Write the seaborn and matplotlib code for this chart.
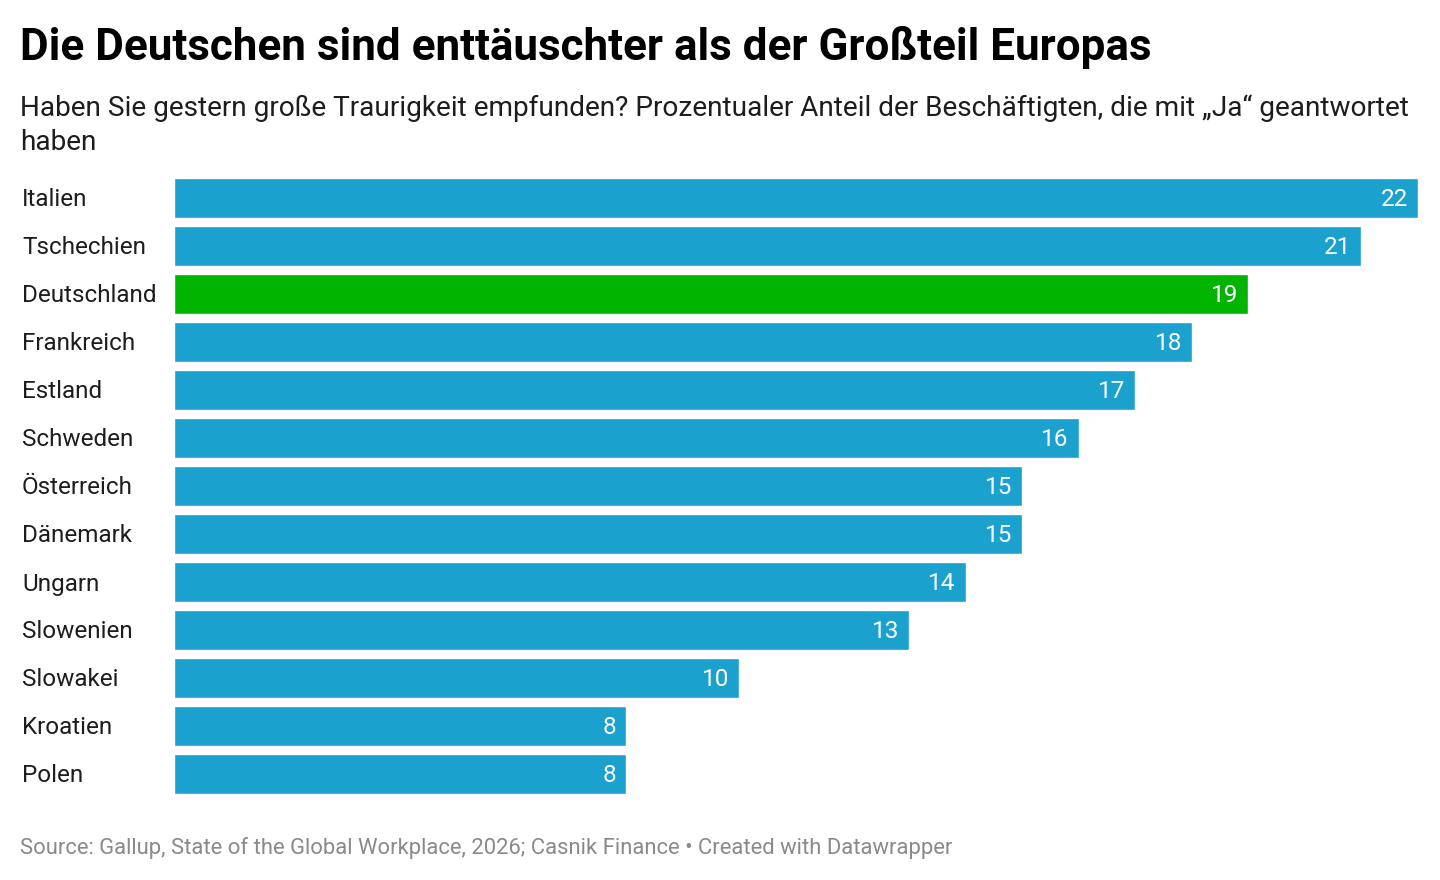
import matplotlib
matplotlib.use("Agg")
import matplotlib.pyplot as plt
import matplotlib.transforms as mtransforms
import seaborn as sns
import pandas as pd

countries = ["Italien", "Tschechien", "Deutschland", "Frankreich", "Estland", "Schweden",
             "Österreich", "Dänemark", "Ungarn", "Slowenien", "Slowakei", "Kroatien", "Polen"]
values = [22, 21, 19, 18, 17, 16, 15, 15, 14, 13, 10, 8, 8]
highlight = "Deutschland"

title = "Die Deutschen sind enttäuschter als der Großteil Europas"
subtitle_lines = ["Haben Sie gestern große Traurigkeit empfunden? Prozentualer Anteil der Beschäftigten, die mit „Ja“ geantwortet",
                  "haben"]
source = "Source: Gallup, State of the Global Workplace, 2026; Casnik Finance • Created with Datawrapper"

sns.set_theme(style="white")
plt.rcParams["font.family"] = ["Roboto", "DejaVu Sans"]

BLUE = "#1aa1cd"
GREEN = "#00b400"

df = pd.DataFrame({"country": countries, "value": values})
palette = {c: (GREEN if c == highlight else BLUE) for c in countries}

W, H = 1440, 880
fig = plt.figure(figsize=(W / 100, H / 100), dpi=100)
ax = fig.add_axes([174 / W, 1 - 794 / H, 1244 / W, (794 - 178) / H])

bw = 40 / 48
sns.barplot(data=df, x="value", y="country", hue="country", palette=palette,
            width=bw, ax=ax, legend=False, saturation=1, order=countries)

ax.set_xlim(0, max(values))
ax.set_ylim(len(countries) - 1 + bw / 2, -bw / 2)
ax.set_xlabel("")
ax.set_ylabel("")
ax.set_xticks([])
ax.set_yticks([])
for s in ax.spines.values():
    s.set_visible(False)

trans = mtransforms.blended_transform_factory(fig.transFigure, ax.transData)
lab_off = mtransforms.offset_copy(trans, fig=fig, x=0, y=-2 * 0.72, units="points")
val_off = mtransforms.offset_copy(ax.transData, fig=fig, x=-10 * 0.72, y=-2 * 0.72, units="points")
for i, (c, v) in enumerate(zip(countries, values)):
    ax.text(22 / W, i, c, transform=lab_off, ha="left", va="center",
            fontsize=17.5, color="#1d1d1d")
    ax.text(v, i, str(v), transform=val_off, ha="right", va="center",
            fontsize=17.5, color="white")

fig.text(20 / W, 1 - 60 / H, title, ha="left", va="baseline",
         fontsize=31.7, fontweight="bold", color="#000000")
fig.text(20 / W, 1 - 116 / H, subtitle_lines[0], ha="left", va="baseline",
         fontsize=20.15, color="#1d1d1d")
fig.text(20 / W, 1 - 150 / H, subtitle_lines[1], ha="left", va="baseline",
         fontsize=20.15, color="#1d1d1d")
fig.text(20 / W, 1 - 854 / H, source, ha="left", va="baseline",
         fontsize=15.8, color="#8a8a8a")

fig.savefig("out.png", dpi=100, facecolor="white")
